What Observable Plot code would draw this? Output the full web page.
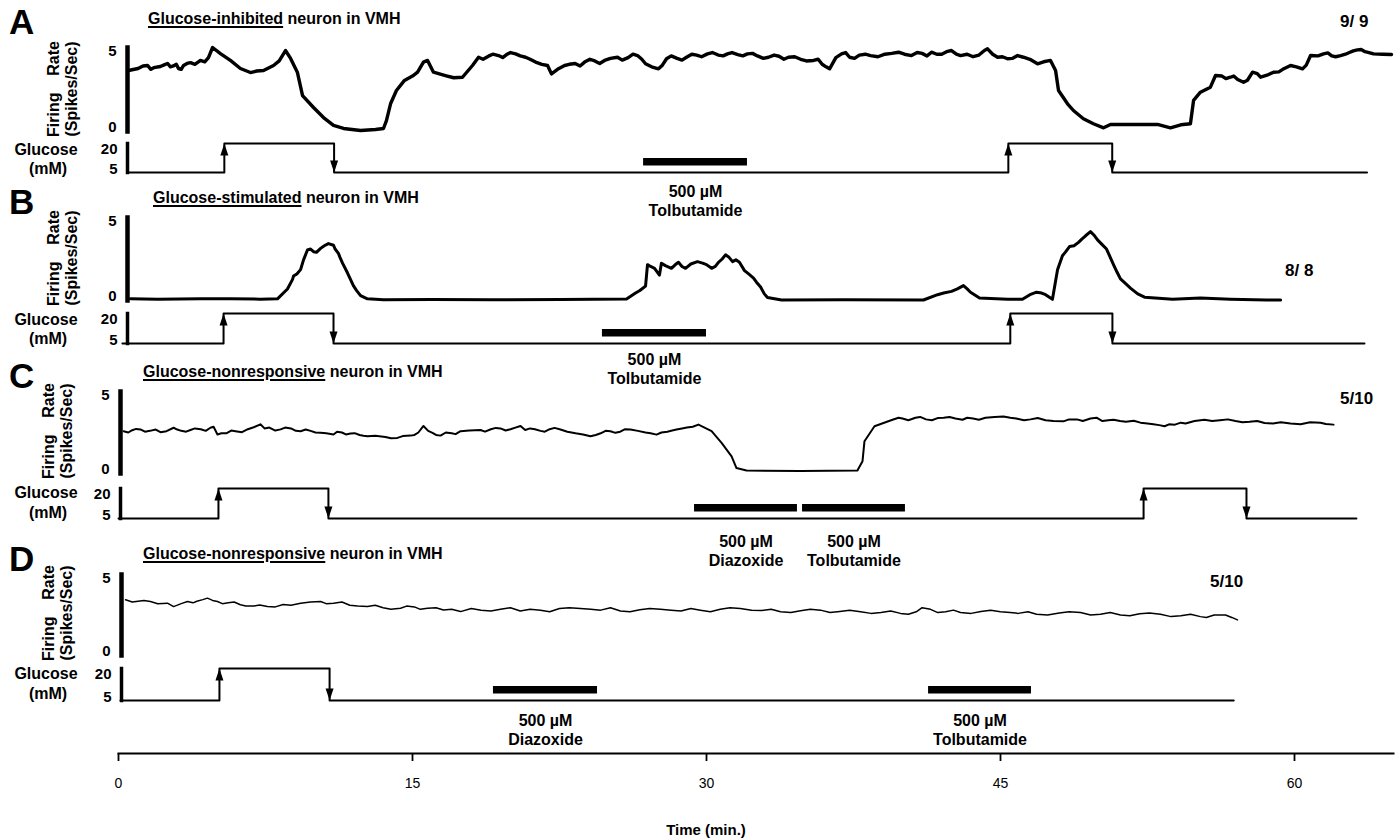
<!DOCTYPE html>
<html><head><meta charset="utf-8">
<script src="https://cdn.jsdelivr.net/npm/d3@7"></script>
<script src="https://cdn.jsdelivr.net/npm/@observablehq/plot@0.6"></script>
<style>
body{margin:0;background:#fff;}
#fig{position:relative;width:1396px;height:838px;overflow:hidden;font-family:"Liberation Sans",Arial,Helvetica,sans-serif;color:#000;background:#fff;}
.abs{position:absolute;white-space:pre;font-weight:bold;line-height:1;transform:translateY(-50%);}
.letter{font-size:35px;}
.title{font-size:16px;}
.title u{text-decoration-thickness:1.5px;text-underline-offset:2px;}
.ratio{font-size:17px;}
.glab{font-size:16px;text-align:center;width:90px;transform:translate(-50%,-50%);}
.ylab{position:absolute;width:96px;font-size:16px;font-weight:bold;line-height:1.1;transform:translate(-50%,-50%) rotate(-90deg);}
.ylab .r1{display:flex;justify-content:space-between;}
.ylab .r2{text-align:center;}
.xlab{font-size:15px;transform:translate(-50%,-50%);}
#fig svg{position:absolute;left:0;}
</style>
</head><body><div id="fig"></div>
<script>
// ---------------- data ----------------
const timeTicks = [0, 15, 30, 45, 60];
const timeLabel = "Time (min.)";
const panelLetters = ["A", "B", "C", "D"];
const titleKeys = ["Glucose-inhibited", "Glucose-stimulated", "Glucose-nonresponsive", "Glucose-nonresponsive"];
const titleRest = " neuron in VMH";
const ratios = ["9/ 9", "8/ 8", "5/10", "5/10"];
const rateTicks = [0, 5];
const glucoseTicks = [5, 20];
const doseLabel = "500 µM";

// firing rate (spikes/sec) : [time (min), rate]  (sorted before drawing)
const firingA = [[0.51,3.63],[1.0,3.75],[1.48,3.93],[1.8,3.8],[2.14,3.87],[2.5,4.05],[2.8,3.9],[3.06,3.75],[3.32,3.93],[3.67,4.1],[3.9,4.0],[4.18,4.23],[4.59,4.4],[4.8,5.0],[5.2,4.64],[5.71,4.23],[6.22,3.75],[6.73,3.51],[7.05,3.6],[7.4,3.63],[7.91,3.93],[8.2,4.2],[8.52,4.82],[8.78,4.35],[9.13,3.51],[9.39,2.14],[9.95,1.43],[10.46,0.83],[10.97,0.36],[11.48,0.18],[12.35,0.06],[13.11,0.12],[13.52,0.18],[13.67,0.65],[13.88,1.65],[14.18,2.44],[14.59,3.04],[15.0,3.3],[15.26,3.53],[15.56,4.13],[15.77,4.23],[16.07,3.53],[16.68,3.33],[17.1,3.2],[17.55,3.23],[18.06,3.93],[18.37,4.42],[18.9,4.5],[19.39,4.52],[19.8,4.58],[20.26,4.62],[20.77,4.42],[21.28,4.13],[21.89,3.93],[22.09,3.43],[22.76,3.93],[23.3,4.05],[23.78,4.13],[24.3,4.2],[24.8,4.23],[25.46,4.42],[26.0,4.4],[26.48,4.52],[26.89,4.03],[27.55,3.73],[27.96,4.33],[28.5,4.35],[28.98,4.42],[29.5,4.55],[30.05,4.62],[30.6,4.55],[31.07,4.62],[31.6,4.58],[32.09,4.62],[32.6,4.5],[33.16,4.42],[33.7,4.48],[34.18,4.42],[34.8,4.3],[35.46,4.23],[35.9,4.0],[36.28,3.73],[36.89,4.62],[37.3,4.42],[37.8,4.55],[38.37,4.52],[39.1,4.6],[39.8,4.72],[40.46,4.52],[41.0,4.65],[41.48,4.72],[42.0,4.6],[42.5,4.82],[42.96,4.52],[43.6,4.45],[44.18,4.82],[44.34,4.92],[44.85,4.42],[45.36,4.33],[45.87,4.52],[46.17,4.42],[46.89,4.03],[47.2,4.15],[47.55,4.23],[47.81,3.63],[47.96,2.44],[48.42,1.65],[48.72,1.25],[49.23,0.76],[49.74,0.46],[50.26,0.22],[50.61,0.42],[51.5,0.42],[52.3,0.42],[53.01,0.42],[53.67,0.22],[54.2,0.4],[54.69,0.46],[54.85,1.85],[55.2,2.34],[55.71,2.64],[55.97,3.33],[56.3,3.3],[56.73,3.23],[57.1,3.1],[57.4,2.93],[57.86,3.53],[58.27,3.23],[58.93,3.53],[59.4,3.7],[59.8,3.93],[60.41,3.73],[60.82,4.52],[61.48,4.62],[61.9,4.5],[62.35,4.52],[62.8,4.7],[63.21,4.86],[63.6,4.75],[64.03,4.62],[64.95,4.58],
  [18.6,4.3],[19.1,4.6],[19.6,4.4],[20.0,4.7],[20.5,4.5],[21.0,4.3],[21.6,4.0],[22.4,3.7],[23.0,4.0],[23.55,3.9],[24.05,4.3],[24.55,4.05],[25.1,4.35],[25.7,4.25],[26.25,4.6],[26.7,4.3],[27.2,3.85],[27.75,3.95],[28.2,4.5],[28.75,4.25],[29.25,4.6],[29.75,4.45],[30.3,4.7],[30.85,4.5],[31.3,4.7],[31.85,4.5],[32.35,4.65],[32.9,4.35],[33.45,4.55],[33.95,4.3],[34.5,4.45],[35.1,4.2],[35.7,4.3],[36.1,3.85],[36.6,4.4],[37.1,4.7],[37.55,4.35],[38.1,4.6],[38.75,4.45],[39.45,4.65],[40.1,4.6],[40.75,4.7],[41.25,4.5],[41.75,4.6],[42.25,4.75],[42.75,4.6],[43.3,4.6],[43.9,4.55],[44.6,4.6],[45.1,4.45],[45.6,4.35],[46.5,4.3],
  [1.25,3.9],[1.65,3.7],[2.3,3.95],[2.65,3.85],[2.95,4.0],[3.2,3.7],[3.5,4.05],[4.4,4.15],[56.5,3.15],[56.9,3.3],[57.6,3.05],[58.1,3.45],[58.6,3.35],[59.2,3.55],[60.1,3.85],[60.6,3.95],[61.2,4.5],[61.7,4.68],[62.1,4.45],[62.6,4.6],[63.0,4.8],[63.4,4.88],[63.8,4.7],[64.5,4.6]];
const firingB = [[0.61,0.1],[2.0,0.08],[4.18,0.1],[5.71,0.1],[7.24,0.08],[8.11,0.1],[8.62,0.69],[8.88,1.27],[8.93,1.47],[9.29,1.86],[9.44,2.45],[9.64,3.04],[9.95,2.94],[10.31,3.14],[10.71,3.43],[10.97,3.33],[11.22,2.84],[11.43,2.25],[11.68,1.67],[11.99,0.88],[12.35,0.29],[12.7,0.1],[13.52,0.05],[16.0,0.06],[19.0,0.04],[22.55,0.06],[25.92,0.09],[26.38,0.45],[26.89,0.87],[26.99,2.16],[27.35,1.94],[27.6,1.53],[27.7,2.25],[28.21,1.94],[28.57,2.3],[28.93,1.94],[29.54,2.34],[30.0,2.16],[30.26,1.94],[30.61,2.3],[30.97,2.75],[31.33,2.34],[31.68,2.3],[31.94,1.8],[32.4,1.35],[32.76,0.81],[33.11,0.18],[33.83,0.03],[37.0,0.04],[41.07,0.03],[41.79,0.35],[42.5,0.55],[43.11,0.9],[43.47,0.5],[43.93,0.15],[45.36,0.07],[46.12,0.07],[46.84,0.5],[47.3,0.35],[47.65,0.07],[47.91,1.85],[48.16,2.7],[48.52,3.25],[48.98,3.5],[49.34,3.9],[49.59,4.15],[49.95,3.65],[50.41,3.1],[50.77,2.15],[51.12,1.3],[51.63,0.75],[52.35,0.2],[53.78,0.07],[55.2,0.15],[56.73,0.08],[58.57,0.03],[59.29,0.03],
  [9.1,1.6],[9.8,3.1],[10.1,2.9],[10.5,3.3],[11.05,3.1],[11.3,2.6],[12.15,0.6],[26.6,0.6],[27.15,2.05],[27.9,2.1],[28.4,2.15],[28.75,2.05],[29.2,2.2],[29.8,2.25],[30.45,2.05],[30.8,2.5],[31.15,2.6],[31.5,2.45],[32.15,1.6],[32.55,1.1],[32.95,0.4],[42.1,0.45],[42.8,0.7],[43.3,0.7],[46.5,0.35],[47.1,0.45],[48.3,2.9],[48.75,3.3],[49.15,3.7],[49.8,3.9],[50.2,3.35],[50.6,2.6],[50.95,1.7],[51.4,1.0],[52.0,0.4]];
const firingC = [[0.26,2.58],[0.7,2.64],[1.12,2.69],[1.6,2.6],[2.14,2.52],[2.81,2.79],[3.2,2.6],[3.67,2.65],[4.2,2.7],[4.69,2.79],[5.05,2.38],[5.5,2.45],[5.97,2.58],[6.6,2.7],[7.24,3.0],[7.7,2.8],[8.27,2.69],[8.8,2.75],[9.29,2.58],[9.8,2.6],[10.31,2.48],[10.97,2.38],[11.4,2.5],[11.84,2.44],[12.3,2.35],[12.7,2.27],[13.62,2.23],[14.23,2.17],[14.9,2.31],[15.3,2.5],[15.56,2.9],[16.02,2.48],[16.43,2.31],[17.0,2.45],[17.45,2.58],[18.47,2.65],[19.0,2.7],[19.49,2.75],[20.0,2.7],[20.51,2.9],[21.0,2.75],[21.53,2.6],[22.0,2.7],[22.55,2.68],[23.32,2.45],[24.08,2.27],[24.6,2.45],[25.1,2.58],[25.6,2.55],[26.12,2.68],[26.89,2.5],[27.45,2.37],[28.0,2.55],[28.47,2.68],[29.0,2.8],[29.59,2.98],[30.26,2.58],[30.77,1.87],[31.28,1.05],[31.53,0.33],[32.04,0.18],[34.8,0.15],[37.7,0.18],[37.96,0.75],[38.06,1.97],[38.57,2.88],[39.49,3.28],[40.0,3.35],[40.66,3.4],[41.2,3.3],[41.79,3.38],[42.4,3.45],[43.06,3.28],[43.6,3.35],[44.23,3.4],[45.15,3.48],[45.8,3.35],[46.53,3.3],[47.3,3.25],[48.21,3.18],[48.9,3.3],[49.59,3.35],[50.2,3.2],[50.77,3.28],[51.4,3.15],[52.14,3.1],[52.8,3.0],[53.37,2.88],[53.9,2.98],[54.44,3.05],[55.41,3.28],[56.2,3.25],[56.99,3.2],[57.7,3.15],[58.47,3.08],[59.3,3.12],[60.31,3.0],[61.33,3.1],[61.99,2.98],
  [0.5,2.5],[0.9,2.72],[1.35,2.55],[1.9,2.68],[2.45,2.58],[3.0,2.68],[3.45,2.55],[3.9,2.75],[4.45,2.6],[4.85,2.85],[5.25,2.45],[5.75,2.62],[6.3,2.52],[6.9,2.82],[7.45,2.75],[8.0,2.62],[8.5,2.8],[9.05,2.6],[9.55,2.68],[10.05,2.5],[10.6,2.45],[11.15,2.55],[11.6,2.38],[12.05,2.46],[12.5,2.3],[13.1,2.3],[13.9,2.15],[14.5,2.28],[15.1,2.35],[15.8,2.6],[16.2,2.35],[16.7,2.5],[17.2,2.4],[17.9,2.62],[18.7,2.55],[19.25,2.78],[19.75,2.62],[20.25,2.8],[20.75,2.65],[21.25,2.7],[21.75,2.55],[22.25,2.78],[22.9,2.55],[23.7,2.38],[24.35,2.35],[24.85,2.6],[25.35,2.48],[25.85,2.7],[26.5,2.6],[27.15,2.45],[27.7,2.5],[28.25,2.62],[28.75,2.75],[29.3,2.85],[29.9,2.8],[39.8,3.4],[40.3,3.25],[40.9,3.45],[41.5,3.25],[42.1,3.4],[42.7,3.35],[43.3,3.4],[43.9,3.28],[44.7,3.45],[45.5,3.4],[46.2,3.25],[46.9,3.38],[47.7,3.2],[48.5,3.3],[49.2,3.2],[49.9,3.4],[50.5,3.25],[51.1,3.2],[51.8,3.22],[52.5,3.05],[53.1,2.95],[53.6,3.0],[54.2,3.1],[54.9,3.2],[55.8,3.2],[56.6,3.3],[57.35,3.12],[58.1,3.2],[58.9,3.05],[59.8,3.05],[60.8,3.12],[61.6,3.02]];
const firingD = [[0.36,3.44],[1.0,3.35],[1.63,3.33],[2.5,3.23],[2.81,3.02],[3.52,3.33],[4.0,3.35],[4.54,3.54],[5.05,3.33],[5.6,3.25],[6.22,3.13],[6.9,3.05],[7.6,3.02],[8.4,3.15],[9.29,3.23],[10.31,3.33],[10.97,3.23],[11.8,3.1],[12.7,3.02],[13.5,2.95],[14.39,2.92],[15.1,3.0],[15.77,2.92],[16.58,2.81],[17.45,2.71],[18.5,2.8],[19.49,2.85],[20.5,2.75],[21.53,2.8],[22.5,2.9],[23.57,2.9],[24.6,2.8],[25.61,2.75],[26.6,2.82],[27.65,2.85],[28.7,2.75],[29.69,2.8],[30.7,2.85],[31.73,2.9],[32.8,2.78],[33.78,2.7],[34.8,2.76],[35.82,2.8],[36.8,2.72],[37.86,2.7],[38.9,2.65],[39.9,2.6],[40.7,2.7],[41.43,2.85],[42.2,2.7],[42.96,2.65],[44.0,2.72],[45.0,2.7],[45.9,2.6],[46.84,2.55],[48.0,2.62],[49.08,2.65],[50.1,2.55],[51.12,2.5],[52.1,2.58],[53.16,2.55],[54.2,2.45],[55.2,2.4],[55.9,2.5],[56.48,2.5],[56.8,2.35],[57.09,2.2],
  [0.7,3.3],[1.3,3.4],[2.0,3.2],[3.2,3.2],[3.8,3.25],[4.3,3.45],[4.8,3.4],[5.3,3.2],[5.9,3.3],[6.5,3.05],[7.2,3.12],[8.0,3.0],[8.8,3.1],[9.8,3.3],[10.6,3.2],[11.4,3.3],[12.2,3.05],[13.1,3.1],[13.9,2.85],[14.7,3.05],[15.4,2.85],[16.2,2.95],[17.0,2.85],[18.0,2.9],[19.0,2.75],[20.0,2.95],[21.0,2.85],[22.0,2.7],[23.0,2.95],[24.1,2.85],[25.1,2.95],[26.1,2.7],[27.1,2.9],[28.2,2.8],[29.2,2.9],[30.2,2.7],[31.2,2.95],[32.3,2.8],[33.3,2.85],[34.3,2.65],[35.3,2.85],[36.3,2.65],[37.3,2.8],[38.4,2.6],[39.4,2.75],[40.3,2.55],[41.0,2.95],[41.8,2.65],[42.6,2.8],[43.5,2.6],[44.5,2.8],[45.5,2.65],[46.4,2.7],[47.4,2.5],[48.5,2.7],[49.6,2.5],[50.6,2.65],[51.6,2.45],[52.6,2.62],[53.7,2.4],[54.7,2.55],[55.5,2.35]];

// glucose (mM) : [time (min), concentration]
const glucoseA = [[0.5,5],[5.4,5],[5.4,20],[11.0,20],[11.0,5],[45.4,5],[45.4,20],[50.7,20],[50.7,5],[63.7,5]];
const glucoseB = [[0.2,5],[5.36,5],[5.36,20],[10.97,20],[10.97,5],[45.5,5],[45.5,20],[50.71,20],[50.71,5],[63.57,5]];
const glucoseC = [[0.0,5],[5.1,5],[5.1,20],[10.71,20],[10.71,5],[52.3,5],[52.3,20],[57.55,20],[57.55,5],[63.16,5]];
const glucoseD = [[0.1,5],[5.15,5],[5.15,20],[10.77,20],[10.77,5],[56.9,5]];

// drug applications (min)
const drugsA = [{name: "Tolbutamide", start: 26.79, end: 32.09}];
const drugsB = [{name: "Tolbutamide", start: 24.69, end: 30.0}];
const drugsC = [{name: "Diazoxide", start: 29.39, end: 34.64}, {name: "Tolbutamide", start: 34.9, end: 40.15}];
const drugsD = [{name: "Diazoxide", start: 19.13, end: 24.44}, {name: "Tolbutamide", start: 41.33, end: 46.58}];

// ---------------- layout / style ----------------
const W = 1396;
const X_RANGE = [118, 1392];
const FONT = '"Liberation Sans", Arial, Helvetica, sans-serif';
const panels = [
  {firing: firingA, glucose: glucoseA, drugs: drugsA, y5: 47,  y0: 131, g20: 143, g5: 172, axisX: 127, traceW: 3.4, labelDy: 11,
   letter: [9, 21], title: [148, 19], ratio: [1340, 21], ylab: [63, 89], glab: [46, 150, 169]},
  {firing: firingB, glucose: glucoseB, drugs: drugsB, y5: 217, y0: 300, g20: 313, g5: 343, axisX: 127, traceW: 3.0, labelDy: 8,
   letter: [9, 201], title: [153, 198], ratio: [1285, 270], ylab: [63, 258], glab: [46, 320, 339]},
  {firing: firingC, glucose: glucoseC, drugs: drugsC, y5: 391, y0: 473, g20: 488, g5: 518, axisX: 120, traceW: 2.0, labelDy: 15,
   letter: [9, 375], title: [143, 372], ratio: [1340, 398], ylab: [58, 431], glab: [46, 493, 513]},
  {firing: firingD, glucose: glucoseD, drugs: drugsD, y5: 574, y0: 655, g20: 668, g5: 700, axisX: 121, traceW: 1.5, labelDy: 12,
   letter: [9, 558], title: [143, 554], ratio: [1210, 581], ylab: [58, 613], glab: [46, 674, 694]}
];

const fig = document.getElementById("fig");
function addDiv(cls, html, left, top) {
  const d = document.createElement("div");
  d.className = cls;
  d.innerHTML = html;
  d.style.left = left + "px";
  d.style.top = top + "px";
  fig.appendChild(d);
  return d;
}
function place(svg, top) {
  svg.style.top = top + "px";
  fig.appendChild(svg);
}
const arrowUp = {draw(ctx) { ctx.moveTo(0, 0); ctx.lineTo(-4, 12); ctx.lineTo(4, 12); ctx.closePath(); }};
const arrowDown = {draw(ctx) { ctx.moveTo(0, 0); ctx.lineTo(-4, -12); ctx.lineTo(4, -12); ctx.closePath(); }};
const baseStyle = {background: "transparent", overflow: "visible", fontFamily: FONT, fontWeight: "bold", fontSize: "15px", color: "black"};
const fmt = d => String(d);
const axisOpts = {tickSize: 0, tickPadding: 11, label: null, tickFormat: fmt, fontSize: 15};

panels.forEach((p, i) => {
  // firing-rate plot
  const mt = 10, mb = 6;
  const fPlot = Plot.plot({
    width: W, height: p.y0 - p.y5 + mt + mb,
    marginLeft: p.axisX, marginRight: 4, marginTop: mt, marginBottom: mb,
    x: {domain: [0, 65], range: X_RANGE, axis: null},
    y: {domain: [0, 5]},
    style: baseStyle,
    marks: [
      Plot.frame({anchor: "left", strokeWidth: 4.5}),
      Plot.axisY([rateTicks[1]], {...axisOpts, dy: 4}),
      Plot.axisY([rateTicks[0]], {...axisOpts, dy: -4}),
      Plot.line(d3.sort(p.firing, d => d[0]), {x: d => d[0], y: d => d[1], stroke: "black", strokeWidth: p.traceW, strokeLinejoin: "round", strokeLinecap: "round"})
    ]
  });
  place(fPlot, p.y5 - mt);

  // glucose plot
  const gmt = 6, gmb = 6;
  const frameH = p.g5 - p.g20;
  const ups = [], downs = [];
  for (let k = 1; k < p.glucose.length; k++) {
    const [t0, c0] = p.glucose[k - 1], [t1, c1] = p.glucose[k];
    if (t0 === t1) (c1 > c0 ? ups : downs).push(p.glucose[k]);
  }
  const gPlot = Plot.plot({
    width: W, height: frameH + gmt + gmb,
    marginLeft: p.axisX, marginRight: 4, marginTop: gmt, marginBottom: gmb,
    x: {domain: [0, 65], range: X_RANGE, axis: null},
    y: {domain: [5, 20]},
    style: baseStyle,
    marks: [
      Plot.frame({anchor: "left", strokeWidth: 3.5}),
      Plot.axisY([glucoseTicks[1]], {...axisOpts, tickPadding: 10, dy: 6}),
      Plot.axisY([glucoseTicks[0]], {...axisOpts, tickPadding: 10, dy: -3}),
      Plot.rect(p.drugs, {x1: "start", x2: "end", fill: "black", insetTop: frameH - 14, insetBottom: 6.5}),
      Plot.line(p.glucose, {x: d => d[0], y: d => d[1], stroke: "black", strokeWidth: 2}),
      Plot.dot(ups, {x: d => d[0], y: d => d[1], symbol: arrowUp, fill: "black", stroke: "none"}),
      Plot.dot(downs, {x: d => d[0], y: d => d[1], symbol: arrowDown, fill: "black", stroke: "none"}),
      Plot.text(p.drugs, {x: d => (d.start + d.end) / 2, text: d => doseLabel + "\n" + d.name, frameAnchor: "bottom",
        lineAnchor: "top", dy: p.labelDy, fontSize: 16, lineHeight: 1.2, fill: "black"})
    ]
  });
  place(gPlot, p.g20 - gmt);

  // texts
  addDiv("abs letter", panelLetters[i], p.letter[0], p.letter[1]);
  addDiv("abs title", "<u>" + titleKeys[i] + "</u>" + titleRest, p.title[0], p.title[1]);
  addDiv("abs ratio", ratios[i], p.ratio[0], p.ratio[1]);
  const yl = document.createElement("div");
  yl.className = "ylab";
  yl.innerHTML = '<div class="r1"><span>Firing</span><span>Rate</span></div><div class="r2">(Spikes/Sec)</div>';
  yl.style.left = p.ylab[0] + "px";
  yl.style.top = p.ylab[1] + "px";
  fig.appendChild(yl);
  addDiv("abs glab", "Glucose", p.glab[0], p.glab[1]);
  addDiv("abs glab", "(mM)", p.glab[0] + 2, p.glab[2]);
});

// shared time axis
const axH = 90, axMt = 5, axMb = 85;
const axPlot = Plot.plot({
  width: W, height: axH, marginLeft: 118, marginRight: 3, marginTop: axMt, marginBottom: axMb,
  x: {domain: [0, 65], range: X_RANGE},
  style: {background: "transparent", overflow: "visible", fontFamily: FONT, fontSize: "14px", color: "black"},
  marks: [
    Plot.frame({anchor: "bottom", strokeWidth: 2}),
    Plot.axisX(timeTicks, {tickSize: 8, tickPadding: 17, strokeWidth: 1.8, label: null, tickFormat: fmt})
  ]
});
place(axPlot, 753 - (axH - axMb));
addDiv("abs xlab", timeLabel, 706, 829);
</script></body></html>
